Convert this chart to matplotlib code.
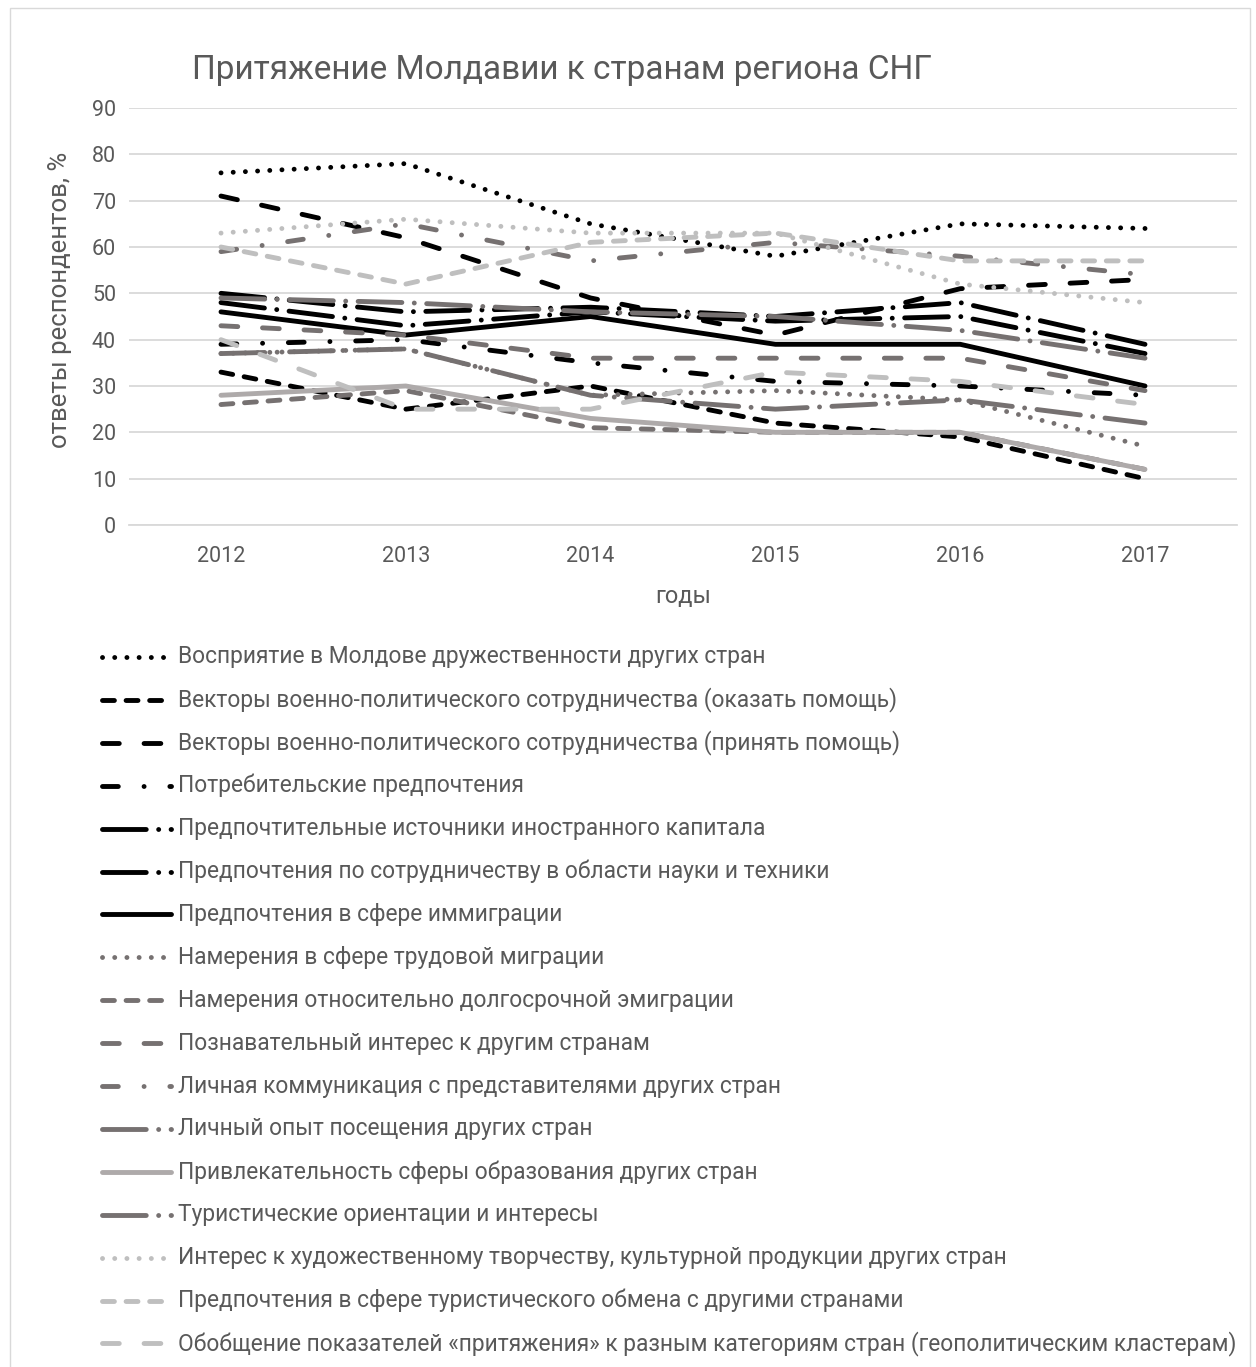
#Line chart: attraction of Moldova to CIS countries, 2012-2017
import matplotlib
matplotlib.use('Agg')
import matplotlib.pyplot as plt
from matplotlib.lines import Line2D
from matplotlib.patches import Rectangle

plt.rcParams['font.family'] = ['Roboto', 'DejaVu Sans']

#Data
years = ['2012', '2013', '2014', '2015', '2016', '2017']

friendliness = [76, 78, 65, 58, 65, 64]
military_give = [33, 25, 30, 22, 19, 10]
military_take = [71, 62, 49, 41, 51, 53]
consumer = [39, 40, 35, 31, 30, 28]
capital = [50, 46, 47, 45, 48, 39]
science = [48, 43, 46, 44, 45, 37]
immigration = [46, 41, 45, 39, 39, 30]
labour_migration = [37, 38, 28, 29, 27, 17]
long_emigration = [26, 29, 21, 20, 20, 12]
cognitive = [43, 41, 36, 36, 36, 29]
communication = [59, 65, 57, 61, 58, 54]
visits = [37, 38, 28, 25, 27, 22]
education = [28, 30, 23, 20, 20, 12]
tourism = [49, 48, 46, 45, 42, 36]
culture = [63, 66, 63, 63, 52, 48]
tourist_exchange = [60, 52, 61, 63, 57, 57]
summary = [40, 25, 25, 33, 31, 26]

labels = [
    'Восприятие в Молдове дружественности других стран',
    'Векторы военно-политического сотрудничества (оказать помощь)',
    'Векторы военно-политического сотрудничества (принять помощь)',
    'Потребительские предпочтения',
    'Предпочтительные источники иностранного капитала',
    'Предпочтения по сотрудничеству в области науки и техники',
    'Предпочтения в сфере иммиграции',
    'Намерения в сфере трудовой миграции',
    'Намерения относительно долгосрочной эмиграции',
    'Познавательный интерес к другим странам',
    'Личная коммуникация с представителями других стран',
    'Личный опыт посещения других стран',
    'Привлекательность сферы образования других стран',
    'Туристические ориентации и интересы',
    'Интерес к художественному творчеству, культурной продукции других стран',
    'Предпочтения в сфере туристического обмена с другими странами',
    'Обобщение показателей «притяжения» к разным категориям стран (геополитическим кластерам)',
]
values = [friendliness, military_give, military_take, consumer, capital, science,
          immigration, labour_migration, long_emigration, cognitive, communication,
          visits, education, tourism, culture, tourist_exchange, summary]

#Styles (dash patterns in line-width units)
BLACK = '#000000'
GRAY = '#767171'
MID = '#AEAAAA'
LIGHT = '#BFBFBF'
DOT = (0.01, 2.5)
DASH = (2.45, 2.4)
LONG = (3.45, 5.1)
DASHDOT = (3.25, 5.3, 0.01, 5.3)
LONGDOT = (9, 2.55, 0.01, 2.55)
SOLID = None

styles = [(BLACK, DOT), (BLACK, DASH), (BLACK, LONG), (BLACK, DASHDOT),
          (BLACK, LONGDOT), (BLACK, LONGDOT), (BLACK, SOLID),
          (GRAY, DOT), (GRAY, DASH), (GRAY, LONG), (GRAY, DASHDOT),
          (GRAY, LONGDOT), (MID, SOLID), (GRAY, LONGDOT),
          (LIGHT, DOT), (LIGHT, DASH), (LIGHT, LONG)]

LW = 3.5
TXT = '#595959'
W, H = 1256, 1367

def fx(px):
    return px / W

def fy(py):
    return 1 - py / H

def line_kw(color, dashes):
    kw = dict(color=color, lw=LW, solid_capstyle='round', dash_capstyle='round',
              solid_joinstyle='round', dash_joinstyle='round')
    if dashes is not None:
        kw['dashes'] = dashes
    return kw

fig = plt.figure(figsize=(W / 100, H / 100), dpi=100)
ax = fig.add_axes([fx(128.6), fy(525), fx(1237.4) - fx(128.6), fy(108) - fy(525)])

x = list(range(len(years)))
for vals, (color, dashes) in zip(values, styles):
    ax.plot(x, vals, **line_kw(color, dashes))

ax.set_xlim(-0.5, 5.5)
ax.set_ylim(0, 90)
ax.set_yticks(range(0, 91, 10))
ax.set_xticks(x)
ax.set_xticklabels(years)
ax.yaxis.grid(True, color='#D9D9D9', lw=1.3)
ax.set_axisbelow(True)
for side in ['top', 'left', 'right']:
    ax.spines[side].set_visible(False)
ax.spines['bottom'].set_color('#D9D9D9')
ax.spines['bottom'].set_linewidth(1.3)
ax.tick_params(length=0, labelsize=15.5, colors=TXT)
ax.tick_params(axis='y', pad=9)
ax.tick_params(axis='x', pad=15)

#Titles
fig.text(fx(562), fy(70), 'Притяжение Молдавии к странам региона СНГ',
         fontsize=24, color=TXT, ha='center', va='center')
fig.text(fx(60), fy(300), 'ответы респондентов, %', fontsize=18.5, color=TXT,
         rotation=90, ha='center', va='center')
fig.text(fx(683), fy(597), 'годы', fontsize=17, color=TXT, ha='center', va='center')

#Legend drawn row by row under the chart
for i, (label, (color, dashes)) in enumerate(zip(labels, styles)):
    yy = 657 + i * 42.9
    fig.add_artist(Line2D([fx(102), fx(171)], [fy(yy), fy(yy)], **line_kw(color, dashes)))
    fig.text(fx(178), fy(yy), label, fontsize=16.4, color=TXT, ha='left', va='center')

#Chart area border
fig.add_artist(Rectangle((fx(10), -0.01), fx(1250) - fx(10), fy(8) + 0.01,
                         fill=False, edgecolor='#D9D9D9', lw=1, transform=fig.transFigure))

fig.savefig('out.png', dpi=100)
